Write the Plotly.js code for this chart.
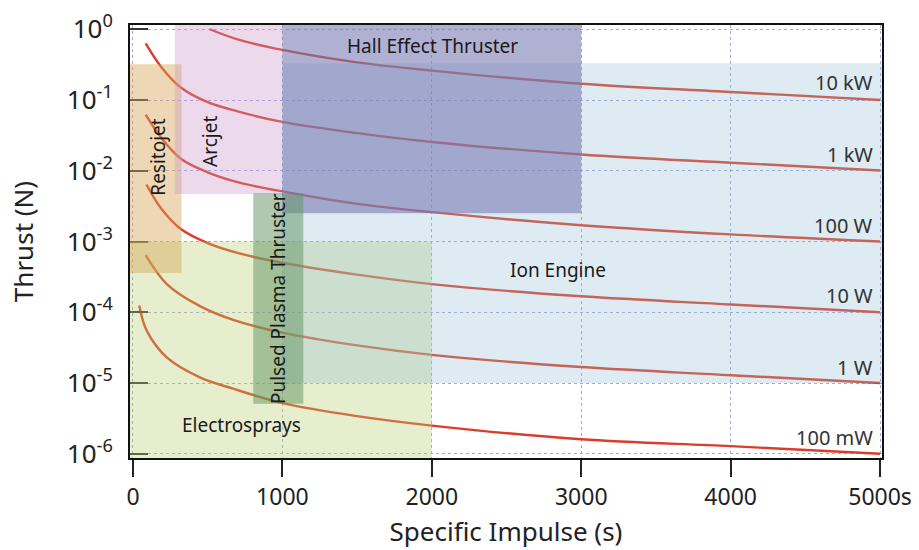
<!DOCTYPE html>
<html>
<head>
<meta charset="utf-8">
<script src="https://cdn.plot.ly/plotly-3.0.1.min.js"></script>
<style>html,body{margin:0;padding:0;background:#fff;}#chart{width:919px;height:550px;}</style>
</head>
<body>
<div id="chart"></div>
<script>
// ---- Data ----
const ispTicks = [0, 1000, 2000, 3000, 4000, 5000];
const ispTickText = ["0", "1000", "2000", "3000", "4000", "5000s"];
const thrustTicks = [1e-6, 1e-5, 1e-4, 1e-3, 1e-2, 1e-1, 1];
const thrustTickText = ["10<sup>-6</sup>", "10<sup>-5</sup>", "10<sup>-4</sup>", "10<sup>-3</sup>", "10<sup>-2</sup>", "10<sup>-1</sup>", "10<sup>0</sup>"];

const powerLabels = ["10 kW", "1 kW", "100 W", "10 W", "1 W", "100 mW"];

const isp10kW = [513, 700, 1000, 1500, 2000, 3000, 4000, 5000];
const thrust10kW = [1.0, 0.72, 0.51, 0.34, 0.26, 0.17, 0.13, 0.10];

const isp1kW = [85, 190, 320, 500, 700, 1000, 1500, 2000, 3000, 4000, 5000];
const thrust1kW = [0.63, 0.29, 0.15, 0.093, 0.069, 0.049, 0.034, 0.0255, 0.017, 0.013, 0.0101];

const isp100W = [85, 190, 320, 500, 700, 1000, 1500, 2000, 3000, 4000, 5000];
const thrust100W = [0.062, 0.029, 0.0148, 0.0095, 0.0069, 0.0051, 0.0034, 0.0026, 0.0017, 0.00126, 0.001];

const isp10W = [90, 190, 320, 500, 700, 1000, 1500, 2000, 3000, 4000, 5000];
const thrust10W = [0.0064, 0.0029, 0.0015, 0.00095, 0.00069, 0.0005, 0.00034, 0.00025, 0.000168, 0.000129, 0.0001];

const isp1W = [85, 226, 448, 671, 1006, 1500, 2000, 3000, 4000, 5000];
const thrust1W = [0.00064, 0.00025, 0.000122, 0.000078, 0.000051, 0.000034, 0.000025, 0.0000168, 0.0000129, 0.00001];

const isp100mW = [42, 92, 226, 448, 671, 1000, 1500, 2000, 3000, 4000, 5000];
const thrust100mW = [0.000125, 0.000055, 0.000023, 0.000012, 0.0000083, 0.0000052, 0.0000034, 0.0000025, 0.0000016, 0.00000128, 0.000001];

// Propulsion technology regions: [Isp min, Isp max], [thrust min, thrust max]
const regionNames = ["Electrosprays", "Ion Engine", "Resitojet", "Arcjet", "Hall Effect Thruster", "Pulsed Plasma Thruster"];
const regionIspMin = [-20, 1000, -20, 280, 1000, 805];
const regionIspMax = [2000, 5013, 325, 1000, 3000, 1140];
const regionThrustMin = [8.65e-7, 1e-5, 3.6e-4, 4.7e-3, 2.5e-3, 5.1e-6];
const regionThrustMax = [1e-3, 0.33, 0.32, 1.15, 1.15, 4.8e-3];

// ---- Styles ----
const regionFill = ["rgb(184,206,112)", "rgb(145,188,212)", "rgb(217,166,88)", "rgb(201,149,201)", "rgb(119,119,177)", "rgb(95,145,95)"];
const regionOpacity = [0.35, 0.3, 0.45, 0.35, 0.58, 0.5];
const FONT = "Noto Sans, Open Sans, DejaVu Sans, sans-serif";
const curveColor = "rgb(218,62,42)";

const series = [
  [isp10kW, thrust10kW], [isp1kW, thrust1kW], [isp100W, thrust100W],
  [isp10W, thrust10W], [isp1W, thrust1W], [isp100mW, thrust100mW]
];
const traces = series.map((s, i) => ({
  x: s[0], y: s[1], type: "scatter", mode: "lines",
  line: {color: curveColor, width: 2.4, shape: "spline", smoothing: 1.0},
  name: powerLabels[i], hoverinfo: "x+y+name"
}));

const shapes = regionNames.map((n, i) => ({
  type: "rect", xref: "x", yref: "y",
  x0: regionIspMin[i], x1: regionIspMax[i],
  y0: regionThrustMin[i], y1: regionThrustMax[i],
  fillcolor: regionFill[i], opacity: regionOpacity[i],
  line: {width: 0}, layer: "above"
}));

// Power labels at right end of curves
const labelY = [-0.75, -1.77, -2.77, -3.76, -4.78, -5.77];
const annotations = powerLabels.map((t, i) => ({
  text: t, xref: "x", yref: "y", x: 4963, y: labelY[i],
  xanchor: "right", yanchor: "middle", showarrow: false,
  font: {family: FONT, size: 20, color: "#333"}
}));
// Region labels
const regionLabelPos = [
  {x: 725, y: -5.59, a: 0},
  {x: 2845, y: -3.40, a: 0},
  {x: 168, y: -1.80, a: -90},
  {x: 515, y: -1.58, a: -90},
  {x: 2005, y: -0.236, a: 0},
  {x: 970, y: -3.80, a: -90}
];
regionNames.forEach((n, i) => {
  annotations.push({
    text: n, xref: "x", yref: "y", x: regionLabelPos[i].x, y: regionLabelPos[i].y,
    textangle: regionLabelPos[i].a, showarrow: false,
    xanchor: "center", yanchor: "middle",
    font: {family: FONT, size: 19, color: "#1a1a1a"}
  });
});

const layout = {
  width: 919, height: 550,
  margin: {l: 130, r: 37, t: 25, b: 92},
  paper_bgcolor: "#fff", plot_bgcolor: "#fff",
  showlegend: false,
  font: {family: FONT, color: "#222"},
  xaxis: {
    range: [-20, 5013], tickvals: ispTicks, ticktext: ispTickText,
    ticks: "outside", ticklen: 17, tickwidth: 2, tickcolor: "#222",
    showline: true, linecolor: "#111", linewidth: 2, mirror: true,
    showgrid: true, gridcolor: "rgb(160,170,215)", griddash: "dot", gridwidth: 1,
    zeroline: false,
    tickfont: {family: FONT, size: 23, color: "#222"},
    title: {text: "Specific Impulse (s)", font: {family: FONT, size: 26, color: "#222"}, standoff: 12}
  },
  yaxis: {
    type: "log", range: [-6.06, 0.06], tickvals: thrustTicks, ticktext: thrustTickText,
    ticks: "inside", ticklen: 18, tickwidth: 2, tickcolor: "#333",
    showline: true, linecolor: "#111", linewidth: 2, mirror: true,
    showgrid: true, gridcolor: "rgb(160,170,215)", griddash: "dot", gridwidth: 1,
    zeroline: false, ticklabelstandoff: 10,
    tickfont: {family: FONT, size: 26, color: "#222"},
    title: {text: "Thrust (N)", font: {family: FONT, size: 26, color: "#222"}, standoff: 26}
  },
  shapes: shapes,
  annotations: annotations
};

Plotly.newPlot("chart", traces, layout, {displayModeBar: false, staticPlot: true});
</script>
</body>
</html>
